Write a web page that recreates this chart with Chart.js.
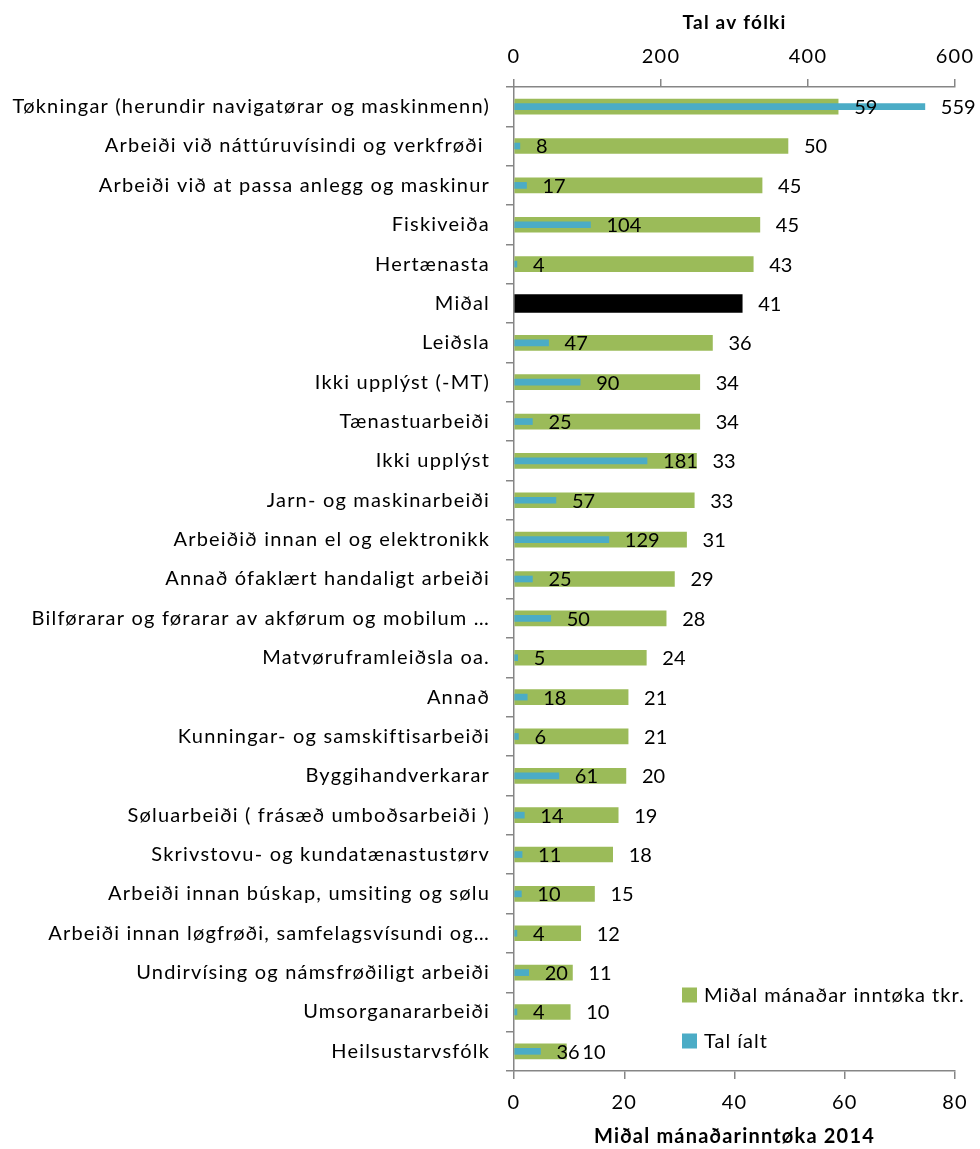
<!DOCTYPE html>
<html>
<head>
<meta charset="utf-8">
<title>Miðal mánaðarinntøka 2014</title>
<script src="https://cdn.jsdelivr.net/npm/chart.js@4.4.0/dist/chart.umd.min.js"></script>
<style>
    body { margin: 0; background: #fff; }
    #chart-wrap { position: relative; width: 980px; height: 1149px; }
</style>
</head>
<body>
<div id="chart-wrap"><canvas id="bar-chart-income"></canvas></div>
<script>
const occupations = [
    'Tøkningar (herundir navigatørar og maskinmenn)',
    'Arbeiði við náttúruvísindi og verkfrøði ',
    'Arbeiði við at passa anlegg og maskinur',
    'Fiskiveiða',
    'Hertænasta',
    'Miðal',
    'Leiðsla',
    'Ikki upplýst (-MT)',
    'Tænastuarbeiði',
    'Ikki upplýst',
    'Jarn- og maskinarbeiði',
    'Arbeiðið innan el og elektronikk',
    'Annað ófaklært handaligt arbeiði',
    'Bilførarar og førarar av akførum og mobilum …',
    'Matvøruframleiðsla oa.',
    'Annað',
    'Kunningar- og samskiftisarbeiði',
    'Byggihandverkarar',
    'Søluarbeiði ( frásæð umboðsarbeiði )',
    'Skrivstovu- og kundatænastustørv',
    'Arbeiði innan búskap, umsiting og sølu',
    'Arbeiði innan løgfrøði, samfelagsvísundi og…',
    'Undirvísing og námsfrøðiligt arbeiði',
    'Umsorganararbeiði',
    'Heilsustarvsfólk'
];

// average monthly income, thousand kr.
const monthlyIncome = [58.8, 49.7, 45.0, 44.6, 43.4, 41.4, 36.0, 33.7, 33.7, 33.1, 32.7, 31.3, 29.1,
    27.6, 24.0, 20.7, 20.7, 20.3, 18.9, 17.9, 14.6, 12.1, 10.6, 10.2, 9.5];

// number of people in each group (none for the average row)
const peopleCount = [559, 8, 17, 104, 4, null, 47, 90, 25, 181, 57, 129, 25, 50, 5, 18, 6, 61, 14, 11,
    10, 4, 20, 4, 36];

const averageRow = 'Miðal';
const incomeTicks = [0, 20, 40, 60, 80];
const peopleTicks = [0, 200, 400, 600];

const incomeLabel = 'Miðal mánaðar inntøka tkr.';
const peopleLabel = 'Tal íalt';

const GREEN = '#9BBB59';
const BLUE = '#4BACC6';
const AXIS_GREY = '#868686';
const FONT = 'Lato';

// the axis text is set a little loose
const textSpacing = {
    id: 'textSpacing',
    beforeDraw(chart) {
        chart.ctx.letterSpacing = '1.2px';
    }
};

// value written just past the end of every bar
const barValueLabels = {
    id: 'barValueLabels',
    afterDatasetsDraw(chart) {
        const ctx = chart.ctx;
        ctx.save();
        ctx.letterSpacing = '0px';
        ctx.font = `20px ${FONT}`;
        ctx.fillStyle = '#000';
        ctx.textAlign = 'left';
        ctx.textBaseline = 'middle';
        chart.data.datasets.forEach((ds, i) => {
            const meta = chart.getDatasetMeta(i);
            meta.data.forEach((bar, j) => {
                const v = ds.data[j];
                if (v === null || v === undefined) return;
                ctx.fillText(String(Math.round(v)), bar.x + 16, bar.y + 1);
            });
        });
        ctx.restore();
    }
};

// legend sits inside the plot, bottom right
const cornerLegend = {
    id: 'cornerLegend',
    afterDraw(chart) {
        const ctx = chart.ctx;
        const items = [
            { text: incomeLabel, color: GREEN, y: 995 },
            { text: peopleLabel, color: BLUE, y: 1041 }
        ];
        ctx.save();
        ctx.letterSpacing = '1px';
        ctx.font = `20px ${FONT}`;
        ctx.textAlign = 'left';
        ctx.textBaseline = 'middle';
        items.forEach(item => {
            ctx.fillStyle = item.color;
            ctx.fillRect(682, item.y - 7.5, 15, 15);
            ctx.fillStyle = '#000';
            ctx.fillText(item.text, 704, item.y + 1);
        });
        ctx.restore();
    }
};

function axisLine() {
    return { display: true, color: AXIS_GREY, width: 1.5 };
}

function axisGrid() {
    return { drawOnChartArea: false, drawTicks: true, tickLength: 8, color: AXIS_GREY, lineWidth: 1.5 };
}

// fixed box size, and no extra side padding for the end tick labels
function fitHorizontal(height) {
    return function (scale) {
        scale.height = height;
        scale.paddingLeft = 0;
        scale.paddingRight = 0;
    };
}

function createIncomeChart() {
    const averageIndex = occupations.indexOf(averageRow);

    const ctxIncome = document.getElementById('bar-chart-income').getContext('2d');
    const incomeChart = new Chart(ctxIncome, {
        type: 'bar',
        data: {
            labels: occupations,
            datasets: [{
                label: peopleLabel,
                data: peopleCount,
                xAxisID: 'x2',
                backgroundColor: BLUE,
                barThickness: 6,
                grouped: false
            }, {
                label: incomeLabel,
                data: monthlyIncome.map((v, i) => i === averageIndex ? null : v),
                xAxisID: 'x',
                backgroundColor: GREEN,
                barThickness: 15,
                grouped: false
            }, {
                label: averageRow,
                data: monthlyIncome.map((v, i) => i === averageIndex ? v : null),
                xAxisID: 'x',
                backgroundColor: '#000',
                barThickness: 18,
                grouped: false
            }]
        },
        options: {
            indexAxis: 'y',
            responsive: true,
            maintainAspectRatio: false,
            animation: false,
            layout: { padding: { left: 0, right: 25, top: 0, bottom: 0 } },
            plugins: {
                legend: { display: false },
                tooltip: { enabled: false }
            },
            scales: {
                y: {
                    type: 'category',
                    offset: true,
                    grid: Object.assign(axisGrid(), { offset: true }),
                    border: axisLine(),
                    ticks: {
                        autoSkip: false,
                        color: '#000',
                        padding: 16,
                        font: { family: FONT, size: 20 }
                    },
                    afterFit(scale) { scale.width = 514; }
                },
                x: {
                    position: 'bottom',
                    min: 0,
                    max: 80,
                    grid: axisGrid(),
                    border: axisLine(),
                    ticks: { color: '#000', padding: 12, font: { family: FONT, size: 20 } },
                    afterBuildTicks(scale) { scale.ticks = incomeTicks.map(v => ({ value: v })); },
                    title: {
                        display: true,
                        text: 'Miðal mánaðarinntøka 2014',
                        color: '#000',
                        font: { family: FONT, size: 20, weight: 'bold' },
                        padding: { top: 0, bottom: 0 }
                    },
                    afterFit: fitHorizontal(78)
                },
                x2: {
                    position: 'top',
                    min: 0,
                    max: 600,
                    grid: axisGrid(),
                    border: axisLine(),
                    ticks: { color: '#000', padding: 10, font: { family: FONT, size: 20 } },
                    afterBuildTicks(scale) { scale.ticks = peopleTicks.map(v => ({ value: v })); },
                    title: {
                        display: true,
                        text: 'Tal av fólki',
                        color: '#000',
                        font: { family: FONT, size: 19, weight: 'bold' },
                        padding: { top: 11, bottom: 0 }
                    },
                    afterFit: fitHorizontal(87)
                }
            }
        },
        plugins: [textSpacing, barValueLabels, cornerLegend]
    });
    console.log('chart area', incomeChart.chartArea);
}

document.fonts.load(`20px ${FONT}`).then(createIncomeChart, createIncomeChart);
</script>
</body>
</html>
